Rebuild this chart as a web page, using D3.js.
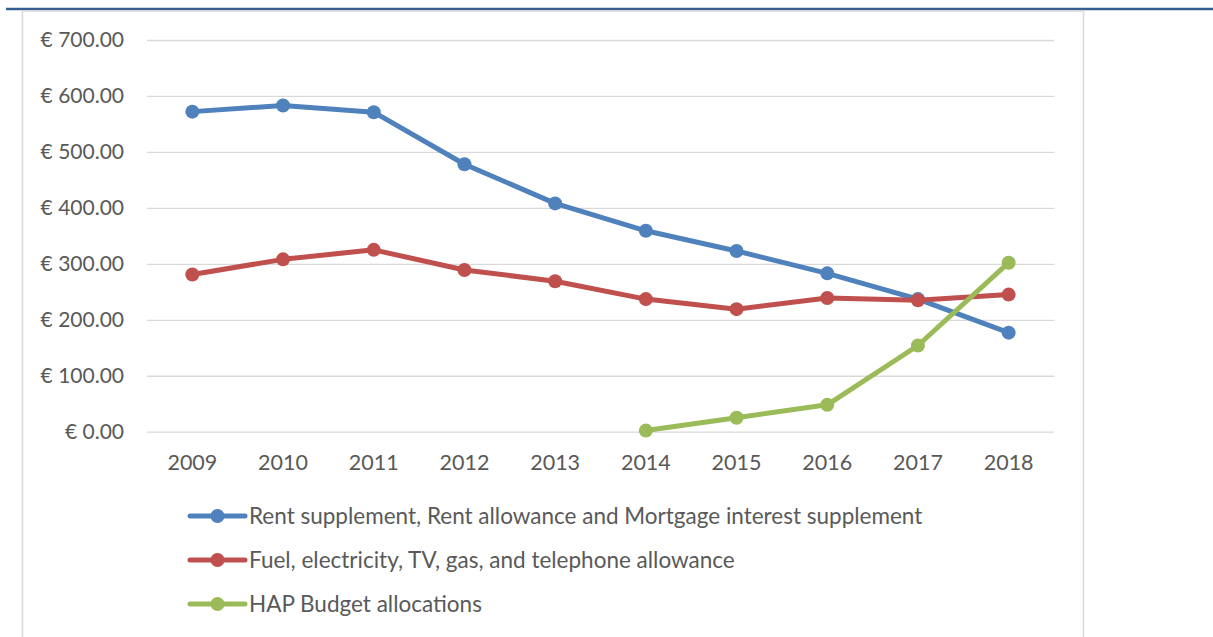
<!DOCTYPE html>
<html>
<head>
<meta charset="utf-8">
<script src="https://cdn.jsdelivr.net/npm/d3@7"></script>
<style>
  body { margin: 0; background: #fff; }
  text { font-family: Lato, "Open Sans", sans-serif; fill: #595959; }
</style>
</head>
<body>
<div id="canvas"></div>
<script>
"use strict"

// years along the bottom
let years = ["2009", "2010", "2011", "2012", "2013", "2014", "2015", "2016", "2017", "2018"];

// values (euro)
let rentValues = [572, 583, 571, 478, 408, 359, 323, 283, 237, 177];
let fuelValues = [281, 308, 325, 289, 269, 237, 219, 239, 235, 245];
let hapValues = [null, null, null, null, null, 2, 25, 48, 154, 302];

let seriesNames = [
    "Rent supplement, Rent allowance and Mortgage interest supplement",
    "Fuel, electricity, TV, gas, and telephone allowance",
    "HAP Budget allocations"
];
let seriesColors = ["#4F81BD", "#C0504D", "#9BBB59"];
let yTicks = [0, 100, 200, 300, 400, 500, 600, 700];

let drawing = d3.select("#canvas")
    .append("svg")
    .attr("width", 1213)
    .attr("height", 637);

// page rule and chart frame
drawing.append("line")
    .attr("x1", 6).attr("x2", 1213)
    .attr("y1", 9).attr("y2", 9)
    .attr("stroke", "#365F91")
    .attr("stroke-width", 2.5);

drawing.append("path")
    .attr("d", "M22.5,640 L22.5,11 L1083.5,11 L1083.5,640")
    .attr("fill", "none")
    .attr("stroke", "#D9D9D9")
    .attr("stroke-width", 1.5);

let x = d3.scaleBand()
    .domain(years)
    .range([147, 1054]);

let y = d3.scaleLinear()
    .domain([0, 700])
    .range([431.7, 40]);

// gridlines
let yAxis = d3.axisLeft(y)
    .tickValues(yTicks)
    .tickSize(-(1054 - 147))
    .tickPadding(23)
    .tickFormat(d => "€ " + d3.format(".2f")(d));

let yG = drawing.append("g")
    .attr("transform", "translate(147,0)")
    .call(yAxis);
yG.select(".domain").remove();
yG.selectAll(".tick line").attr("stroke", "#D9D9D9").attr("stroke-width", 1.3);
yG.selectAll(".tick text")
    .attr("fill", "#595959")
    .style("font-size", "21px")
    .style("font-family", "Lato, sans-serif");

let xAxis = d3.axisBottom(x).tickSize(0).tickPadding(23);
let xG = drawing.append("g")
    .attr("transform", "translate(0,431.7)")
    .call(xAxis);
xG.select(".domain").remove();
xG.selectAll(".tick text")
    .attr("fill", "#595959")
    .style("font-size", "21.5px")
    .style("font-family", "Lato, sans-serif");

let allSeries = [rentValues, fuelValues, hapValues];

let line = d3.line()
    .defined(d => d.v !== null)
    .x(d => x(d.year) + x.bandwidth() / 2)
    .y(d => y(d.v));

allSeries.forEach(function (vals, i) {
    let pts = years.map((yr, j) => ({ year: yr, v: vals[j] }));
    drawing.append("path")
        .datum(pts)
        .attr("d", line)
        .attr("fill", "none")
        .attr("stroke", seriesColors[i])
        .attr("stroke-width", 5)
        .attr("stroke-linejoin", "round");
    drawing.selectAll(null)
        .data(pts.filter(d => d.v !== null))
        .enter()
        .append("circle")
        .attr("cx", d => x(d.year) + x.bandwidth() / 2)
        .attr("cy", d => y(d.v))
        .attr("r", 7)
        .attr("fill", seriesColors[i]);
});

// legend
let legend = drawing.append("g");
seriesNames.forEach(function (name, i) {
    let ly = 516 + i * 44;
    legend.append("line")
        .attr("x1", 190).attr("x2", 245)
        .attr("y1", ly).attr("y2", ly)
        .attr("stroke", seriesColors[i])
        .attr("stroke-width", 5)
        .attr("stroke-linecap", "round");
    legend.append("circle")
        .attr("cx", 217.5).attr("cy", ly)
        .attr("r", 7)
        .attr("fill", seriesColors[i]);
    legend.append("text")
        .attr("x", 249).attr("y", ly)
        .attr("dy", "0.35em")
        .style("font-size", "22.5px")
        .text(name);
});
</script>
</body>
</html>
